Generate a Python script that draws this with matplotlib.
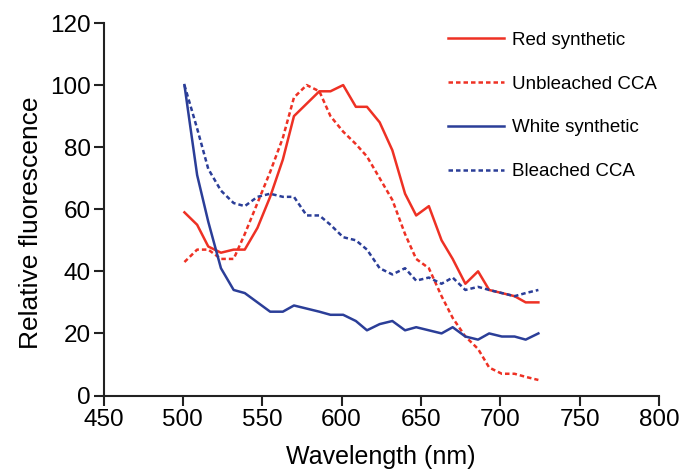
import matplotlib
matplotlib.use('Agg')
import matplotlib.pyplot as plt

plt.rcParams['font.family'] = ['Liberation Sans', 'DejaVu Sans']

# wavelength sample points (nm)
wavelength = [501, 509, 516, 524, 532, 539, 547, 555, 563, 570,
              578, 586, 593, 601, 609, 616, 624, 632, 640, 647,
              655, 663, 670, 678, 686, 693, 701, 709, 716, 724]

red_synthetic = [59, 55, 48, 46, 47, 47, 54, 64, 76, 90,
                 94, 98, 98, 100, 93, 93, 88, 79, 65, 58,
                 61, 50, 44, 36, 40, 34, 33, 32, 30, 30]

unbleached_cca = [43, 47, 47, 44, 44, 52, 62, 72, 83, 96,
                  100, 98, 90, 85, 81, 77, 70, 63, 52, 44,
                  41, 32, 25, 19, 15, 9, 7, 7, 6, 5]

white_synthetic = [100, 71, 56, 41, 34, 33, 30, 27, 27, 29,
                   28, 27, 26, 26, 24, 21, 23, 24, 21, 22,
                   21, 20, 22, 19, 18, 20, 19, 19, 18, 20]

bleached_cca = [100, 86, 73, 66, 62, 61, 64, 65, 64, 64,
                58, 58, 55, 51, 50, 47, 41, 39, 41, 37,
                38, 36, 38, 34, 35, 34, 33, 32, 33, 34]

red = '#EE3124'
blue = '#2B3E98'
dots = (0, (1.8, 1.2))

fig = plt.figure(figsize=(6.9, 4.72), dpi=100)
ax = fig.add_axes([103.5 / 690, 1 - 395.5 / 472, 555.5 / 690, 372.5 / 472])

ax.plot(wavelength, red_synthetic, color=red, lw=1.8, label='Red synthetic')
ax.plot(wavelength, unbleached_cca, color=red, lw=1.8, ls=dots, label='Unbleached CCA')
ax.plot(wavelength, white_synthetic, color=blue, lw=1.8, label='White synthetic')
ax.plot(wavelength, bleached_cca, color=blue, lw=1.8, ls=dots, label='Bleached CCA')

ax.set_xlim(450, 800)
ax.set_ylim(0, 120)
ax.set_xticks(range(450, 801, 50))
ax.set_yticks(range(0, 121, 20))
ax.spines['top'].set_visible(False)
ax.spines['right'].set_visible(False)
for s in ['left', 'bottom']:
    ax.spines[s].set_linewidth(1.5)
    ax.spines[s].set_color('#222222')
ax.tick_params(width=1.5, length=7, labelsize=17.5, color='#222222', pad=3)
ax.tick_params(axis='y', pad=2)
ax.set_xlabel('Wavelength (nm)', fontsize=18, labelpad=10)
ax.set_ylabel('Relative fluorescence', fontsize=19)
ax.yaxis.set_label_coords(-0.109, 0.465)

ax.legend(loc='upper left', bbox_to_anchor=(431 / 690, 1 - 15 / 472),
          bbox_transform=fig.transFigure, frameon=False, fontsize=13.5,
          handlelength=3.0, handletextpad=0.4, labelspacing=1.42)

fig.savefig('out.png', dpi=100)
